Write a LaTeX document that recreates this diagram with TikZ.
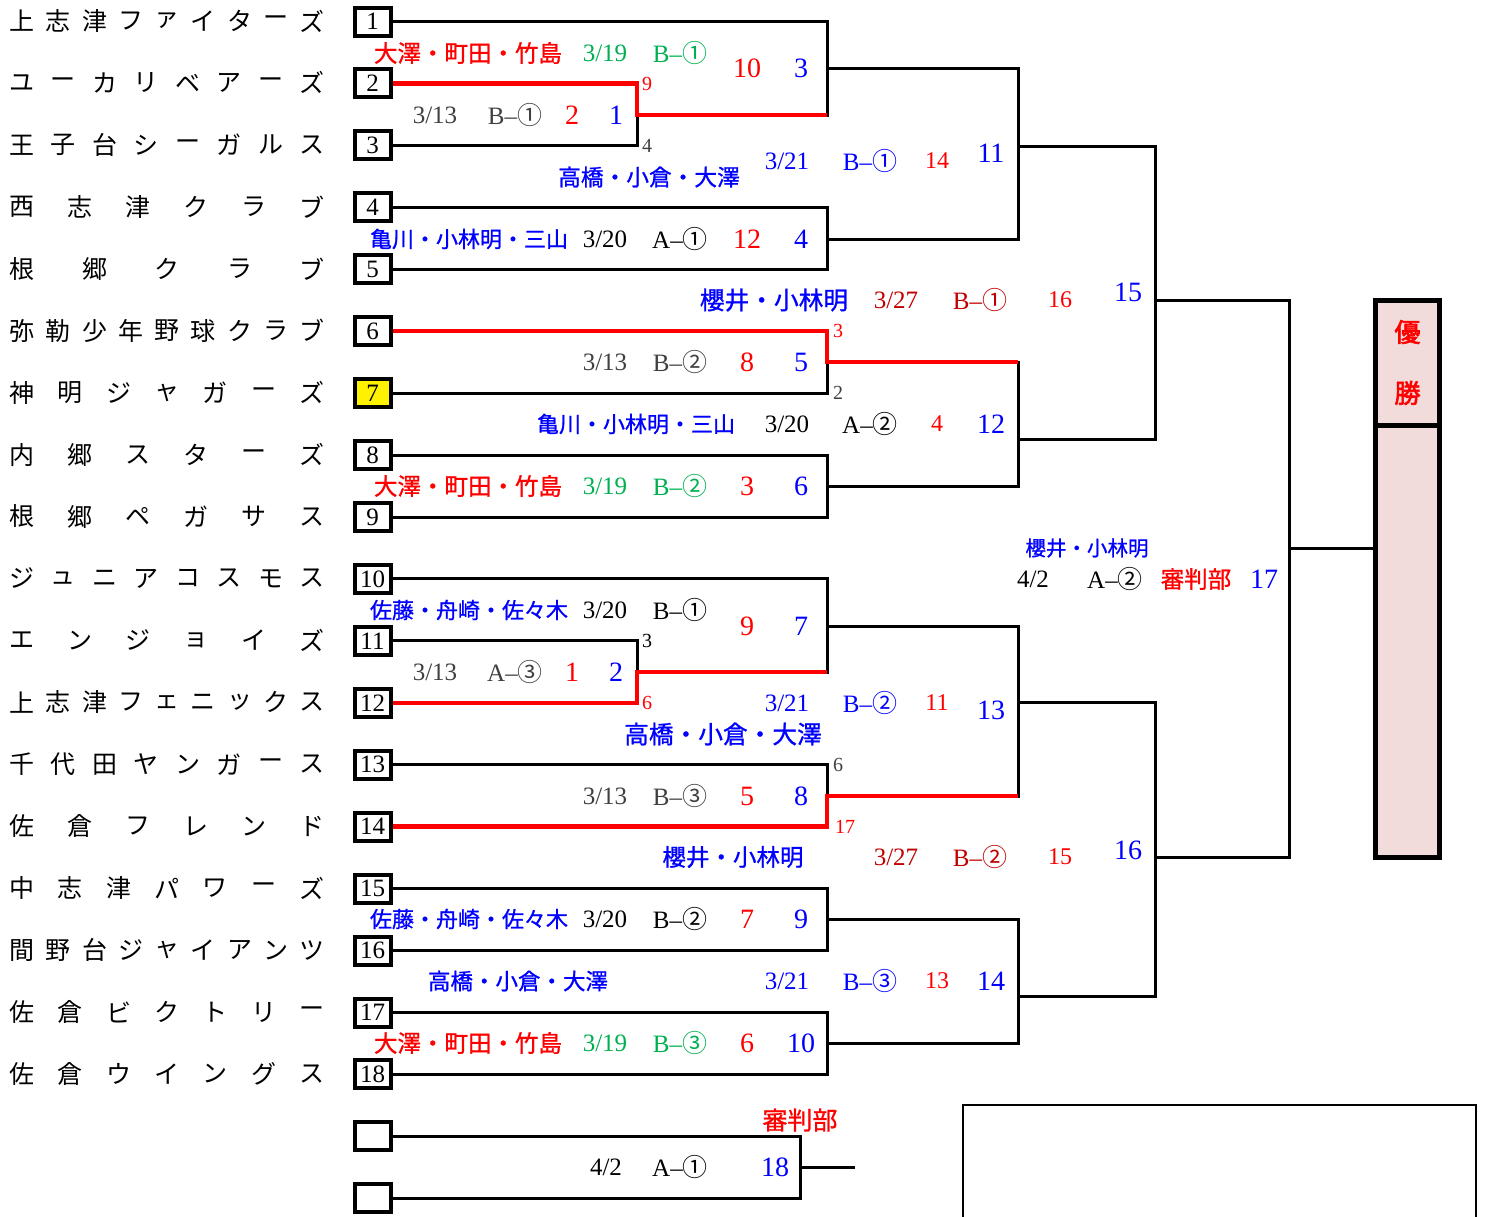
\documentclass[tikz,border=0pt]{standalone}
\usepackage{fontspec}
\setmainfont{Liberation Serif}
\newfontfamily\jp{Noto Sans CJK JP}[AutoFakeBold=2.5]
\newfontfamily\jpm{Noto Sans CJK JP}[FakeBold=1]
\usetikzlibrary{positioning}
\definecolor{kred}{RGB}{255,0,0}
\definecolor{kblue}{RGB}{0,0,255}
\definecolor{kgreen}{RGB}{0,176,80}
\definecolor{kdred}{RGB}{192,0,0}
\definecolor{kgray}{RGB}{64,64,64}
\definecolor{kpink}{RGB}{242,220,219}
\newcommand\crt[2]{#1–{\jp #2}}
\newcommand\tname[3]{%
  \foreach \cc [count=\i] in {#3}
    \node[teamch] (n#1-\i) at ({22+(\i-1)*290/(#2-1)},{21+(#1-1)*61.94}) {\cc};}
\begin{document}
\begin{tikzpicture}[
        x=1pt, y=-1pt,
        bline/.style={line width=3pt},
        winline/.style={line width=4.5pt, kred},
        teambox/.style={draw, line width=4pt, minimum width=36pt, minimum height=28pt,
          inner sep=0pt, font=\fontsize{25}{25}\selectfont},
        teamch/.style={inner sep=0pt, font=\jp\fontsize{25}{25}\selectfont},
        champcell/.style={draw, line width=5pt, fill=kpink, minimum width=64pt,
          inner sep=0pt, outer sep=0pt},
        refn/.style={inner sep=0pt, font=\jpm\fontsize{22}{22}\selectfont},
        dte/.style={inner sep=0pt, font=\fontsize{25}{25}\selectfont},
        bigsc/.style={inner sep=0pt, font=\fontsize{28}{28}\selectfont},
        midsc/.style={inner sep=0pt, font=\fontsize{24}{24}\selectfont},
        cornum/.style={inner sep=0pt, font=\fontsize{20}{20}\selectfont}
      ]
      \useasboundingbox (0,0) rectangle (1486,1216);
      \foreach \r in {1,...,6,8,9,...,18}
        \node[teambox] (t\r) at (372.5,{21.5+(\r-1)*61.94}) {\r};
      \node[teambox, fill=yellow] (t7) at (372.5,{21.5+6*61.94}) {7};
      \node[teambox] (e1) at (372.5,1136) {};
      \node[teambox] (e2) at (372.5,1198) {};

      \tname{1}{9}{上,志,津,フ,ァ,イ,タ,ー,ズ}
      \tname{2}{8}{ユ,ー,カ,リ,ベ,ア,ー,ズ}
      \tname{3}{8}{王,子,台,シ,ー,ガ,ル,ス}
      \tname{4}{6}{西,志,津,ク,ラ,ブ}
      \tname{5}{5}{根,郷,ク,ラ,ブ}
      \tname{6}{9}{弥,勒,少,年,野,球,ク,ラ,ブ}
      \tname{7}{7}{神,明,ジ,ャ,ガ,ー,ズ}
      \tname{8}{6}{内,郷,ス,タ,ー,ズ}
      \tname{9}{6}{根,郷,ペ,ガ,サ,ス}
      \tname{10}{8}{ジ,ュ,ニ,ア,コ,ス,モ,ス}
      \tname{11}{6}{エ,ン,ジ,ョ,イ,ズ}
      \tname{12}{9}{上,志,津,フ,ェ,ニ,ッ,ク,ス}
      \tname{13}{8}{千,代,田,ヤ,ン,ガ,ー,ス}
      \tname{14}{6}{佐,倉,フ,レ,ン,ド}
      \tname{15}{7}{中,志,津,パ,ワ,ー,ズ}
      \tname{16}{9}{間,野,台,ジ,ャ,イ,ア,ン,ツ}
      \tname{17}{7}{佐,倉,ビ,ク,ト,リ,ー}
      \tname{18}{7}{佐,倉,ウ,イ,ン,グ,ス}

      \coordinate (g1) at (637,115);
      \coordinate (g2) at (637,672);
      \coordinate (g3) at (827,68);
      \coordinate (g4) at (827,239);
      \coordinate (g5) at (827,362);
      \coordinate (g6) at (827,486);
      \coordinate (g7) at (827,626);
      \coordinate (g8) at (827,796);
      \coordinate (g9) at (827,919);
      \coordinate (g10) at (827,1043);
      \coordinate (g11) at (1018,146);
      \coordinate (g12) at (1018,439);
      \coordinate (g13) at (1018,702);
      \coordinate (g14) at (1018,996);
      \coordinate (g15) at (1155,300);
      \coordinate (g16) at (1155,857);
      \coordinate (g17) at (1289,548);
      \coordinate (g18) at (800,1167);
      \coordinate (x18) at (855,1167);

      \node[champcell, minimum height=125pt, text=kred, align=center,
        font=\jp\bfseries\fontsize{26}{61}\selectfont] (champ) at (1407.5,362.5) {優\\勝};
      \node[champcell, minimum height=432pt, below=0pt of champ] (champbot) {};

      \draw[bline] (t1.east) -| (g3) (g1) -| (g3) (t3.east) -| (g1);
      \draw[bline] (t4.east) -| (g4) (t5.east) -| (g4);
      \draw[bline] (g3) -| (g11) (g4) -| (g11);
      \draw[bline] (t7.east) -| (g5) (g5) -| (g12);
      \draw[bline] (t8.east) -| (g6) (t9.east) -| (g6) (g6) -| (g12);
      \draw[bline] (g11) -| (g15) (g12) -| (g15);
      \draw[bline] (t10.east) -| (g7) (g2) -| (g7) (t11.east) -| (g2);
      \draw[bline] (t13.east) -| (g8) (g8) -| (g13) (g7) -| (g13);
      \draw[bline] (t15.east) -| (g9) (t16.east) -| (g9) (g9) -| (g14);
      \draw[bline] (t17.east) -| (g10) (t18.east) -| (g10) (g10) -| (g14);
      \draw[bline] (g13) -| (g16) (g14) -| (g16);
      \draw[bline] (g15) -| (g17) (g16) -| (g17) (g17) -- (g17 -| champbot.west);
      \draw[bline] (e1.east) -| (g18) (e2.east) -| (g18) (g18) -- (x18);
      \draw[winline] (t2.east) -| (g1) -- (g1 -| g3);
      \draw[winline] (t6.east) -| (g5) -- (g5 -| g12);
      \draw[winline] (t12.east) -| (g2) -- (g2 -| g7);
      \draw[winline] (t14.east) -| (g8) -- (g8 -| g13);
      \draw[line width=2.5pt] (963,1220) |- (1476,1105) -- (1476,1220);

      \node[dte, kgray] (date1) at (435,115) {3/13};
      \node[dte, kgray] (court1) at (515,115) {\crt{B}{①}};
      \node[bigsc, kred] (rs1) at (572,115) {2};
      \node[bigsc, kblue] (no1) at (616,115) {1};
      \node[cornum, kred] (ca1) at (647,84) {9};
      \node[cornum, kgray] (cb1) at (647,146) {4};

      \node[refn, kred, font=\jpm\fontsize{23.5}{23.5}\selectfont] (ref3) at (468,53) {大澤・町田・竹島};
      \node[dte, kgreen] (date3) at (605,53) {3/19};
      \node[dte, kgreen] (court3) at (680,53) {\crt{B}{①}};
      \node[bigsc, kred] (rs3) at (747,68) {10};
      \node[bigsc, kblue] (no3) at (801,68) {3};

      \node[refn, kblue, font=\jpm\fontsize{22.7}{22.7}\selectfont] (ref11) at (649,177) {高橋・小倉・大澤};
      \node[dte, kblue] (date11) at (787,161) {3/21};
      \node[dte, kblue] (court11) at (870,161) {\crt{B}{①}};
      \node[midsc, kred] (rs11) at (937,161) {14};
      \node[bigsc, kblue] (no11) at (991,153) {11};

      \node[refn, kblue] (ref4) at (469,239) {亀川・小林明・三山};
      \node[dte] (date4) at (605,239) {3/20};
      \node[dte] (court4) at (680,239) {\crt{A}{①}};
      \node[bigsc, kred] (rs4) at (747,239) {12};
      \node[bigsc, kblue] (no4) at (801,239) {4};

      \node[refn, kblue, font=\jpm\fontsize{24.7}{24.7}\selectfont] (ref15) at (774,300) {櫻井・小林明};
      \node[dte, kdred] (date15) at (896,300) {3/27};
      \node[dte, kdred] (court15) at (980,300) {\crt{B}{①}};
      \node[midsc, kred] (rs15) at (1060,300) {16};
      \node[bigsc, kblue] (no15) at (1128,292) {15};

      \node[dte, kgray] (date5) at (605,362) {3/13};
      \node[dte, kgray] (court5) at (680,362) {\crt{B}{②}};
      \node[bigsc, kred] (rs5) at (747,362) {8};
      \node[bigsc, kblue] (no5) at (801,362) {5};
      \node[cornum, kred] (ca5) at (838,331) {3};
      \node[cornum, kgray] (cb5) at (838,393) {2};

      \node[refn, kblue] (ref12) at (636,424) {亀川・小林明・三山};
      \node[dte] (date12) at (787,424) {3/20};
      \node[dte] (court12) at (870,424) {\crt{A}{②}};
      \node[midsc, kred] (rs12) at (937,424) {4};
      \node[bigsc, kblue] (no12) at (991,424) {12};

      \node[refn, kred, font=\jpm\fontsize{23.5}{23.5}\selectfont] (ref6) at (468,486) {大澤・町田・竹島};
      \node[dte, kgreen] (date6) at (605,486) {3/19};
      \node[dte, kgreen] (court6) at (680,486) {\crt{B}{②}};
      \node[bigsc, kred] (rs6) at (747,486) {3};
      \node[bigsc, kblue] (no6) at (801,486) {6};

      \node[refn, kblue, font=\jpm\fontsize{20.5}{20.5}\selectfont] (ref17) at (1087,548) {櫻井・小林明};
      \node[dte] (date17) at (1033,579) {4/2};
      \node[dte] (court17) at (1115,579) {\crt{A}{②}};
      \node[refn, kred, font=\jpm\fontsize{23.5}{23.5}\selectfont] (rs17) at (1196,579) {審判部};
      \node[bigsc, kblue] (no17) at (1264,579) {17};

      \node[refn, kblue] (ref7) at (469,610) {佐藤・舟崎・佐々木};
      \node[dte] (date7) at (605,610) {3/20};
      \node[dte] (court7) at (680,610) {\crt{B}{①}};
      \node[bigsc, kred] (rs7) at (747,626) {9};
      \node[bigsc, kblue] (no7) at (801,626) {7};
      \node[cornum] (ca7) at (647,641) {3};

      \node[dte, kgray] (date2) at (435,672) {3/13};
      \node[dte, kgray] (court2) at (515,672) {\crt{A}{③}};
      \node[bigsc, kred] (rs2) at (572,672) {1};
      \node[bigsc, kblue] (no2) at (616,672) {2};
      \node[cornum, kred] (cb2) at (647,703) {6};

      \node[refn, kblue, font=\jpm\fontsize{24.7}{24.7}\selectfont] (ref13) at (723,734) {高橋・小倉・大澤};
      \node[dte, kblue] (date13) at (787,703) {3/21};
      \node[dte, kblue] (court13) at (870,703) {\crt{B}{②}};
      \node[midsc, kred] (rs13) at (937,703) {11};
      \node[bigsc, kblue] (no13) at (991,710) {13};

      \node[cornum, kgray] (ca8) at (838,765) {6};
      \node[dte, kgray] (date8) at (605,796) {3/13};
      \node[dte, kgray] (court8) at (680,796) {\crt{B}{③}};
      \node[bigsc, kred] (rs8) at (747,796) {5};
      \node[bigsc, kblue] (no8) at (801,796) {8};
      \node[cornum, kred] (cb8) at (845,827) {17};

      \node[refn, kblue, font=\jpm\fontsize{23.5}{23.5}\selectfont] (ref16) at (733,857) {櫻井・小林明};
      \node[dte, kdred] (date16) at (896,857) {3/27};
      \node[dte, kdred] (court16) at (980,857) {\crt{B}{②}};
      \node[midsc, kred] (rs16) at (1060,857) {15};
      \node[bigsc, kblue] (no16) at (1128,850) {16};

      \node[refn, kblue] (ref9) at (469,919) {佐藤・舟崎・佐々木};
      \node[dte] (date9) at (605,919) {3/20};
      \node[dte] (court9) at (680,919) {\crt{B}{②}};
      \node[bigsc, kred] (rs9) at (747,919) {7};
      \node[bigsc, kblue] (no9) at (801,919) {9};

      \node[refn, kblue, font=\jpm\fontsize{22.5}{22.5}\selectfont] (ref14) at (518,981) {高橋・小倉・大澤};
      \node[dte, kblue] (date14) at (787,981) {3/21};
      \node[dte, kblue] (court14) at (870,981) {\crt{B}{③}};
      \node[midsc, kred] (rs14) at (937,981) {13};
      \node[bigsc, kblue] (no14) at (991,981) {14};

      \node[refn, kred, font=\jpm\fontsize{23.5}{23.5}\selectfont] (ref10) at (468,1043) {大澤・町田・竹島};
      \node[dte, kgreen] (date10) at (605,1043) {3/19};
      \node[dte, kgreen] (court10) at (680,1043) {\crt{B}{③}};
      \node[bigsc, kred] (rs10) at (747,1043) {6};
      \node[bigsc, kblue] (no10) at (801,1043) {10};

      \node[refn, kred, font=\jpm\fontsize{25}{25}\selectfont] (ref18) at (800,1120) {審判部};
      \node[dte] (date18) at (606,1167) {4/2};
      \node[dte] (court18) at (680,1167) {\crt{A}{①}};
      \node[bigsc, kblue] (no18) at (775,1167) {18};
      \end{tikzpicture}
\end{document}
